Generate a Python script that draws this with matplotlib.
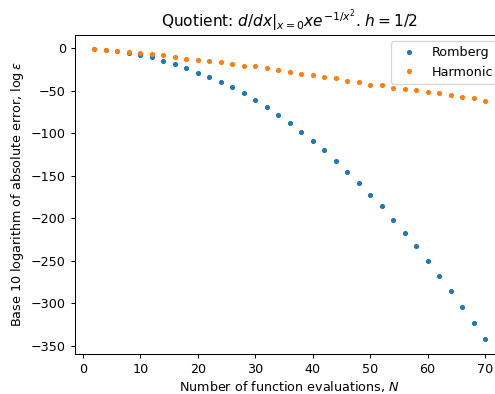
import numpy as np
import matplotlib
matplotlib.use("Agg")
import matplotlib.pyplot as plt

N = list(range(2, 72, 2))

romberg = [-1.2, -2.0, -3.5, -5.5, -7.5, -10.6, -14.5, -18.4, -23.4, -28.6,
           -33.6, -39.9, -45.7, -52.8, -61.0, -69.2, -78.4, -87.6, -98.5, -109.0,
           -120.0, -132.1, -145.4, -158.7, -172.0, -186.0, -201.6, -216.9, -233.0, -250.2,
           -267.3, -285.7, -304.1, -323.2, -342.3]

harmonic = [-1.2, -2.0, -3.2, -4.7, -5.5, -7.1, -8.2, -10.2, -12.8, -13.8,
            -15.2, -16.4, -18.4, -20.4, -21.1, -23.4, -25.4, -27.4, -29.8, -31.3,
            -33.3, -35.6, -38.0, -39.9, -42.7, -43.8, -46.2, -47.7, -49.2, -51.2,
            -52.8, -55.1, -57.1, -59.1, -61.8]


def main():
    dpi = 92  # reference looks like a slightly downscaled default render
    fig = plt.figure(figsize=(495 / dpi, 394 / dpi), dpi=dpi)
    # axes run past the right edge, as in the cropped reference
    ax = fig.add_axes([74.7 / 495, 40 / 394, (504.6 - 74.7) / 495, (354 - 34.7) / 394])

    ax.plot(N, romberg, '.', label='Romberg')
    ax.plot(N, harmonic, '.', label='Harmonic')

    ax.set_xlabel('Number of function evaluations, $N$', labelpad=2.5)
    ax.set_ylabel(r'Base 10 logarithm of absolute error, $\log\epsilon$')
    ax.set_title(r'Quotient: $d/dx|_{x=0}xe^{-1/x^2}$. $h=1/2$')
    ax.legend(loc='upper right')

    fig.savefig('out.png', dpi=dpi)


if __name__ == "__main__":
    main()
